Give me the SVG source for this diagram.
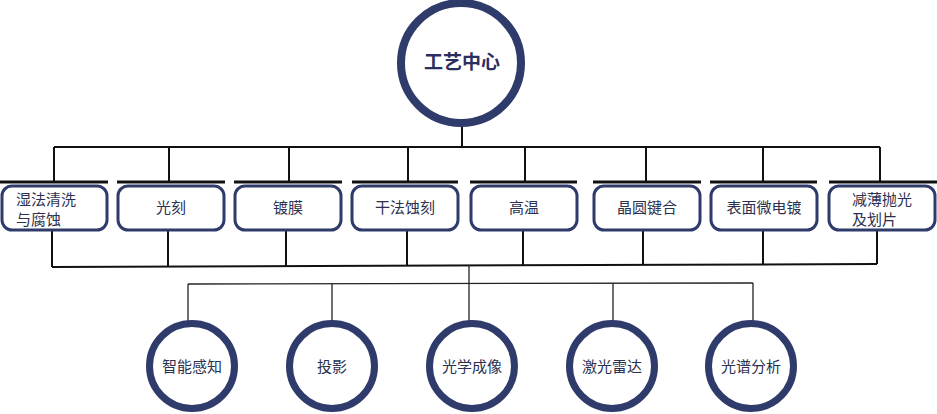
<svg xmlns="http://www.w3.org/2000/svg" width="937" height="414" viewBox="0 0 937 414">
<style>
.c{fill:#fff;stroke:#2f3b6b}
.b{fill:#fff;stroke:#2f3b6b;stroke-width:3}
.bar{stroke:#111;stroke-width:3}
.ln{stroke:#111;stroke-width:2;fill:none}
.ln2{stroke:#222;stroke-width:1.3;fill:none}
text{font-family:"Noto Sans CJK SC","Noto Sans",sans-serif;fill:#2b3150;font-size:15px}
.m{text-anchor:middle}
.t{font-size:19px;font-weight:bold;fill:#2b2f5e}
.s{font-size:15px}
</style>
<rect width="937" height="414" fill="#fff"/>
<g id="connectors">
<line class="ln" x1="462" y1="126" x2="462" y2="147"/>
<line class="ln" x1="54" y1="147" x2="880" y2="147"/>
<path class="ln" d="M54 147V181M169 147V181M289 147V181M408 147V181M525 147V181M646 147V181M763 147V181M880 147V181"/>
<g>
<line class="bar" x1="0" y1="182" x2="108" y2="182"/>
<line class="bar" x1="117" y1="182" x2="225" y2="182"/>
<line class="bar" x1="234" y1="182" x2="342" y2="182"/>
<line class="bar" x1="352" y1="182" x2="458" y2="182"/>
<line class="bar" x1="470" y1="182" x2="577" y2="182"/>
<line class="bar" x1="593" y1="182" x2="701" y2="182"/>
<line class="bar" x1="710" y1="182" x2="817" y2="182"/>
<line class="bar" x1="829" y1="182" x2="937" y2="182"/>
</g>
<path class="ln" d="M52 231V267M168 231V267M286 231V266M407 231V266M523 231V265M643 231V265M763 231V264M877 231V264"/>
<line class="ln" x1="52" y1="267" x2="877" y2="264"/>
<line class="ln2" x1="469" y1="265" x2="469" y2="284"/>
<line class="ln2" x1="188" y1="284" x2="753" y2="283"/>
<path class="ln2" d="M188 284V321M332 284V321M469 284V321M613 283V321M753 283V321"/>
</g>
<g id="center"><circle class="c" cx="461" cy="63" r="60" stroke-width="8"/><text class="m t" x="462" y="69">工艺中心</text></g>
<g id="n1"><rect class="b" x="2" y="186" width="105" height="44" rx="10"/><text x="16" y="205">湿法清洗</text><text x="16" y="225">与腐蚀</text></g>
<g id="n2"><rect class="b" x="118" y="186" width="106" height="44" rx="10"/><text class="m" x="171" y="213">光刻</text></g>
<g id="n3"><rect class="b" x="235" y="186" width="106" height="44" rx="10"/><text class="m" x="288" y="213">镀膜</text></g>
<g id="n4"><rect class="b" x="352" y="186" width="106" height="44" rx="10"/><text class="m" x="405" y="213">干法蚀刻</text></g>
<g id="n5"><rect class="b" x="471" y="186" width="106" height="44" rx="10"/><text class="m" x="524" y="213">高温</text></g>
<g id="n6"><rect class="b" x="594" y="186" width="106" height="44" rx="10"/><text class="m" x="647" y="213">晶圆键合</text></g>
<g id="n7"><rect class="b" x="711" y="186" width="106" height="44" rx="10"/><text class="m" x="764" y="213">表面微电镀</text></g>
<g id="n8"><rect class="b" x="829" y="186" width="106" height="44" rx="10"/><text x="852" y="205">减薄抛光</text><text x="852" y="225">及划片</text></g>
<g id="a1"><circle class="c" cx="192" cy="366" r="42.5" stroke-width="7"/><text class="m s" x="192" y="372">智能感知</text></g>
<g id="a2"><circle class="c" cx="332" cy="366" r="42.5" stroke-width="7"/><text class="m s" x="332" y="372">投影</text></g>
<g id="a3"><circle class="c" cx="472" cy="366" r="42.5" stroke-width="7"/><text class="m s" x="472" y="372">光学成像</text></g>
<g id="a4"><circle class="c" cx="612" cy="366" r="42.5" stroke-width="7"/><text class="m s" x="612" y="372">激光雷达</text></g>
<g id="a5"><circle class="c" cx="751" cy="366" r="42.5" stroke-width="7"/><text class="m s" x="751" y="372">光谱分析</text></g>
</svg>
